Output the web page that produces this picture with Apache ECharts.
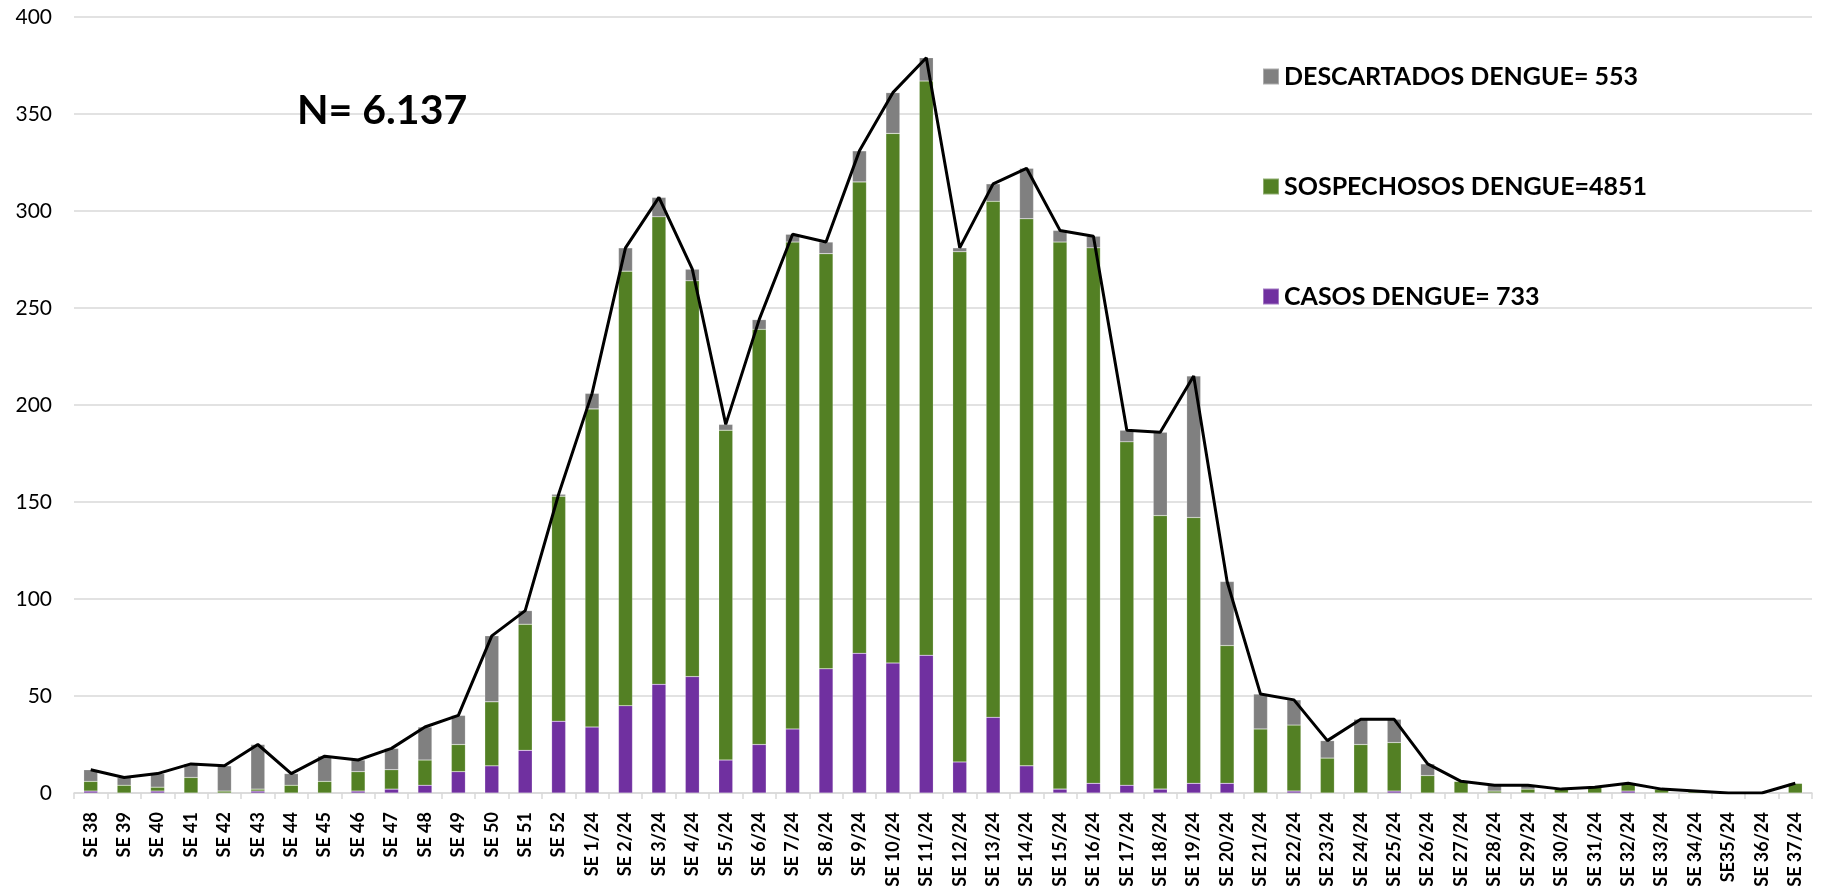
<!DOCTYPE html>
<html>
<head>
<meta charset="utf-8">
<script src="https://cdn.jsdelivr.net/npm/echarts@6/dist/echarts.min.js"></script>
<style>
  html, body { margin: 0; padding: 0; background: #fff; }
  #chart { width: 1822px; height: 886px; }
</style>
</head>
<body>
<div id="chart"></div>
<script>
// semanas epidemiologicas
const semanas = ['SE 38', 'SE 39', 'SE 40', 'SE 41', 'SE 42', 'SE 43', 'SE 44', 'SE 45', 'SE 46', 'SE 47',
  'SE 48', 'SE 49', 'SE 50', 'SE 51', 'SE 52', 'SE 1/24', 'SE 2/24', 'SE 3/24', 'SE 4/24', 'SE 5/24',
  'SE 6/24', 'SE 7/24', 'SE 8/24', 'SE 9/24', 'SE 10/24', 'SE 11/24', 'SE 12/24', 'SE 13/24', 'SE 14/24',
  'SE 15/24', 'SE 16/24', 'SE 17/24', 'SE 18/24', 'SE 19/24', 'SE 20/24', 'SE 21/24', 'SE 22/24',
  'SE 23/24', 'SE 24/24', 'SE 25/24', 'SE 26/24', 'SE 27/24', 'SE 28/24', 'SE 29/24', 'SE 30/24',
  'SE 31/24', 'SE 32/24', 'SE 33/24', 'SE 34/24', 'SE35/24', 'SE 36/24', 'SE 37/24']

const casos = [1, 0, 1, 0, 0, 1, 0, 0, 1, 2, 4, 11, 14, 22, 37, 34, 45, 56, 60, 17,
  25, 33, 64, 72, 67, 71, 16, 39, 14, 2, 5, 4, 2, 5, 5, 0, 1, 0, 0, 1,
  0, 0, 0, 0, 0, 0, 1, 0, 0, 0, 0, 0]

const sospechosos = [5, 4, 2, 8, 1, 1, 4, 6, 10, 10, 13, 14, 33, 65, 116, 164, 224, 241, 204, 170,
  214, 251, 214, 243, 273, 296, 263, 266, 282, 282, 276, 177, 141, 137, 71, 33, 34, 18, 25, 25,
  9, 6, 1, 2, 2, 3, 4, 2, 1, 0, 0, 5]

const descartados = [6, 4, 7, 7, 13, 23, 6, 13, 6, 11, 17, 15, 34, 7, 1, 8, 12, 10, 6, 3,
  5, 4, 6, 16, 21, 12, 2, 9, 26, 6, 6, 6, 43, 73, 33, 18, 13, 9, 13, 12,
  6, 0, 3, 2, 0, 0, 0, 0, 0, 0, 0, 0]

const totales = [12, 8, 10, 15, 14, 25, 10, 19, 17, 23, 34, 40, 81, 94, 154, 206, 281, 307, 270, 190,
  244, 288, 284, 331, 361, 379, 281, 314, 322, 290, 287, 187, 186, 215, 109, 51, 48, 27, 38, 38,
  15, 6, 4, 4, 2, 3, 5, 2, 1, 0, 0, 5]

const yTicks = [0, 400, 50] // min, max, paso

const fuente = 'Lato, "Liberation Sans", sans-serif'

const chart = echarts.init(document.getElementById('chart'))

chart.setOption({
  animation: false,
  textStyle: { fontFamily: fuente },
  grid: {
    left: 74,
    right: 10,
    top: 17,
    bottom: 93,
    outerBoundsMode: 'none',
    containLabel: false
  },
  legend: {
    data: ['DESCARTADOS DENGUE= 553', 'SOSPECHOSOS DENGUE=4851', 'CASOS DENGUE= 733'],
    orient: 'vertical',
    left: 1257,
    top: 59,
    itemWidth: 16,
    itemHeight: 16,
    itemGap: 85,
    icon: 'rect',
    textStyle: {
      fontFamily: fuente,
      fontWeight: 'bold',
      fontSize: 25,
      lineHeight: 24,
      color: '#000'
    }
  },
  graphic: [{
    type: 'text',
    left: 297,
    top: 90,
    z: 100,
    style: {
      text: 'N= 6.137',
      font: 'bold 41px ' + fuente,
      fill: '#000'
    }
  }],
  xAxis: {
    type: 'category',
    data: semanas,
    axisLine: { lineStyle: { color: '#d9d9d9', width: 1.5 } },
    axisTick: { show: true, length: 6, lineStyle: { color: '#d9d9d9', width: 1.5 } },
    axisLabel: {
      rotate: 90,
      interval: 0,
      margin: 19,
      fontSize: 18,
      fontWeight: 'bold',
      color: '#000'
    }
  },
  yAxis: {
    type: 'value',
    min: yTicks[0],
    max: yTicks[1],
    interval: yTicks[2],
    axisLine: { show: false },
    axisTick: { show: false },
    axisLabel: { fontSize: 21, color: '#000', margin: 22 },
    splitLine: { lineStyle: { color: '#d9d9d9', width: 1.5 } }
  },
  series: [
    {
      name: 'CASOS DENGUE= 733',
      type: 'bar',
      stack: 'dengue',
      barWidth: 14,
      itemStyle: { color: '#7030a0', borderColor: 'rgba(255,255,255,0.35)', borderWidth: 0.5 },
      data: casos
    },
    {
      name: 'SOSPECHOSOS DENGUE=4851',
      type: 'bar',
      stack: 'dengue',
      barWidth: 14,
      itemStyle: { color: '#538024', borderColor: 'rgba(255,255,255,0.35)', borderWidth: 0.5 },
      data: sospechosos
    },
    {
      name: 'DESCARTADOS DENGUE= 553',
      type: 'bar',
      stack: 'dengue',
      barWidth: 14,
      itemStyle: { color: '#808080', borderColor: 'rgba(255,255,255,0.35)', borderWidth: 0.5 },
      data: descartados
    },
    {
      name: 'Total',
      type: 'line',
      symbol: 'none',
      z: 5,
      lineStyle: { color: '#000', width: 3 },
      data: totales
    }
  ]
})
</script>
</body>
</html>
